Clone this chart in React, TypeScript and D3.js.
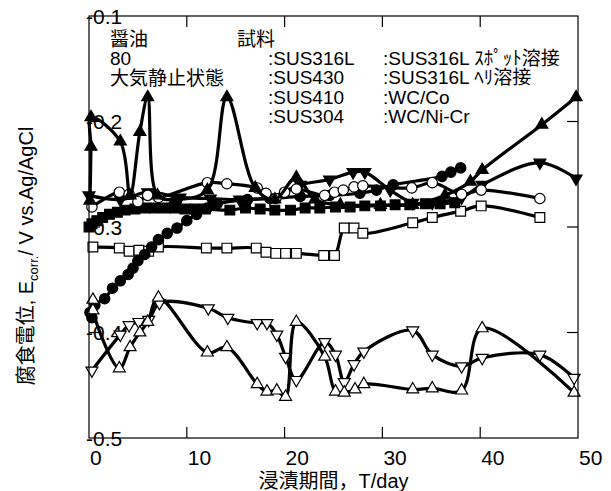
import React, { useEffect, useRef } from "react";
import * as d3 from "d3";

// axis ticks
const xTicks = [0, 10, 20, 30, 40, 50];
const yTicks = [-0.1, -0.2, -0.3, -0.4, -0.5];

// annotation text
const conditionLines = ["醤油", "80", "大気静止状態"];
const sampleHeader = "試料";
const samplesLeft = [":SUS316L", ":SUS430", ":SUS410", ":SUS304"];
const samplesRight = [":SUS316L ｽﾎﾟｯﾄ溶接", ":SUS316L ﾍﾘ溶接", ":WC/Co", ":WC/Ni-Cr"];

// [day, E / V]
const openCircle: [number, number][] = [
  [0.3, -0.281], [3.1, -0.267], [4.1, -0.269], [5.0, -0.276], [6.0, -0.27], [7.1, -0.272],
  [12.1, -0.258], [14.1, -0.259], [17.2, -0.263], [18.1, -0.268], [19.1, -0.273], [20.0, -0.267],
  [21.2, -0.264], [24.1, -0.27], [25.1, -0.267], [26.0, -0.265], [27.1, -0.262], [28.0, -0.261],
  [33.0, -0.263], [35.1, -0.258], [38.1, -0.269], [40.1, -0.265], [46.1, -0.273],
];

const openSquare: [number, number][] = [
  [0.4, -0.319], [3.1, -0.32], [4.1, -0.323], [5.1, -0.322], [6.1, -0.323], [7.1, -0.319],
  [12.0, -0.32], [14.1, -0.32], [17.1, -0.32], [18.1, -0.324], [19.1, -0.325], [20.1, -0.325],
  [21.2, -0.325], [24.0, -0.327], [25.1, -0.327], [26.1, -0.301], [27.1, -0.301], [28.0, -0.306],
  [33.1, -0.296], [35.1, -0.291], [38.0, -0.285], [40.1, -0.28], [46.1, -0.291],
];

const filledCircle: [number, number][] = [
  [0.1, -0.381], [0.3, -0.386], [0.6, -0.374], [1.6, -0.368], [2.4, -0.358], [3.2, -0.351],
  [4.0, -0.345], [4.5, -0.339], [5.0, -0.332], [5.7, -0.326], [6.4, -0.319], [7.1, -0.312],
  [8.0, -0.306], [9.0, -0.301], [10.0, -0.294], [11.0, -0.288], [12.1, -0.282], [13.1, -0.278],
  [16.2, -0.274], [18.5, -0.273], [21.6, -0.271], [24.6, -0.27], [27.7, -0.268], [29.4, -0.265],
  [31.1, -0.26], [36.1, -0.252], [37.0, -0.248], [38.0, -0.244],
];

const filledSquare: [number, number][] = [
  [0.0, -0.3], [0.3, -0.297], [0.8, -0.294], [1.4, -0.291], [2.1, -0.288], [2.9, -0.286],
  [3.7, -0.284], [4.7, -0.283], [5.7, -0.282], [6.7, -0.282], [7.8, -0.282], [8.8, -0.282],
  [9.8, -0.283], [10.8, -0.283], [11.9, -0.283], [14.4, -0.284], [16.0, -0.282], [17.5, -0.283],
  [19.0, -0.284], [20.6, -0.284], [22.1, -0.282], [23.6, -0.282], [25.2, -0.281], [26.7, -0.281],
  [28.2, -0.28], [29.8, -0.28], [31.3, -0.279], [32.8, -0.279], [34.4, -0.278], [35.9, -0.278],
  [37.4, -0.277],
];

const filledTriUp: [number, number][] = [
  [0.1, -0.275], [0.2, -0.224], [0.2, -0.196], [3.2, -0.219], [4.2, -0.27], [5.2, -0.21],
  [6.0, -0.177], [7.0, -0.27], [8.8, -0.274], [12.1, -0.265], [14.1, -0.177], [17.0, -0.263],
  [19.0, -0.274], [21.2, -0.253], [23.1, -0.274], [25.7, -0.279], [29.8, -0.279], [33.1, -0.279],
  [36.4, -0.27], [39.0, -0.257], [40.2, -0.246], [46.3, -0.203], [49.8, -0.177],
];

const filledTriDown: [number, number][] = [
  [0.0, -0.27], [3.2, -0.274], [6.0, -0.267], [9.3, -0.272], [12.4, -0.273], [15.4, -0.274],
  [18.5, -0.272], [21.6, -0.26], [24.6, -0.255], [27.0, -0.248], [28.2, -0.248], [30.8, -0.265],
  [33.1, -0.277], [35.1, -0.277], [38.1, -0.272], [40.2, -0.26], [46.1, -0.239], [49.8, -0.254],
];

const openTriUp: [number, number][] = [
  [0.4, -0.369], [0.4, -0.379], [3.1, -0.434], [4.2, -0.414], [5.2, -0.4], [6.0, -0.39],
  [7.1, -0.367], [12.1, -0.419], [14.1, -0.414], [17.2, -0.449], [18.2, -0.456], [19.2, -0.455],
  [20.1, -0.461], [21.2, -0.39], [24.1, -0.423], [25.2, -0.456], [26.1, -0.457], [27.2, -0.454],
  [28.1, -0.449], [33.1, -0.454], [35.1, -0.453], [38.1, -0.455], [40.2, -0.396], [49.6, -0.457],
];

const openTriDown: [number, number][] = [
  [0.3, -0.436], [3.2, -0.402], [4.1, -0.393], [5.1, -0.39], [6.1, -0.388], [7.2, -0.372],
  [12.2, -0.377], [14.2, -0.386], [17.2, -0.391], [18.2, -0.391], [19.2, -0.402], [20.1, -0.423],
  [21.2, -0.445], [24.1, -0.409], [25.2, -0.421], [26.1, -0.447], [27.1, -0.43], [28.1, -0.418],
  [33.1, -0.398], [35.1, -0.421], [38.1, -0.432], [40.2, -0.424], [46.1, -0.421], [49.6, -0.443],
];

const series = [
  { data: openSquare, shape: "square", filled: false },
  { data: filledCircle, shape: "circle", filled: true },
  { data: filledSquare, shape: "square", filled: true },
  { data: filledTriDown, shape: "down", filled: true },
  { data: openCircle, shape: "circle", filled: false },
  { data: filledTriUp, shape: "up", filled: true },
  { data: openTriDown, shape: "down", filled: false },
  { data: openTriUp, shape: "up", filled: false },
];

const FONT = "'Liberation Sans', Arial, 'Noto Sans CJK JP', sans-serif";

const App = () => {
  const ref = useRef<SVGSVGElement>(null);

  useEffect(() => {
    const svg = d3.select(ref.current);
    svg.selectAll("*").remove();

    const x = d3.scaleLinear().domain([0, 50]).range([89, 578]);
    const y = d3.scaleLinear().domain([-0.1, -0.5]).range([16, 438]);
    const [x0, x1] = x.range();
    const [y0, y1] = y.range();

    // tick labels (start-anchored, as in the original)
    svg
      .append("g")
      .selectAll("text")
      .data(yTicks)
      .enter()
      .append("text")
      .attr("x", x0 - 3)
      .attr("y", (d) => y(d))
      .attr("dominant-baseline", "central")
      .style("font", `21px ${FONT}`)
      .text((d) => d.toFixed(1));

    svg
      .append("g")
      .selectAll("text")
      .data(xTicks)
      .enter()
      .append("text")
      .attr("x", (d) => x(d) + 1)
      .attr("y", y1 + 27)
      .style("font", `21px ${FONT}`)
      .text((d) => d);

    // annotations
    const note = svg.append("g").style("font", `19px ${FONT}`);
    conditionLines.forEach((t, i) =>
      note.append("text").attr("x", 110).attr("y", 46 + i * 19.3).text(t)
    );
    note.append("text").attr("x", 237).attr("y", 46).text(sampleHeader);
    samplesLeft.forEach((t, i) =>
      note.append("text").attr("x", 268).attr("y", 65 + i * 19.3).text(t)
    );
    samplesRight.forEach((t, i) =>
      note.append("text").attr("x", 383).attr("y", 65 + i * 19.3).text(t)
    );

    // data
    const line = d3
      .line<[number, number]>()
      .x((d) => x(d[0]))
      .y((d) => y(d[1]))
      .curve(d3.curveCatmullRom.alpha(0.5));

    const symbolFor = (shape: string) => {
      if (shape === "circle") return d3.symbol(d3.symbolCircle, 85)();
      if (shape === "square") return d3.symbol(d3.symbolSquare, 95)();
      return d3.symbol(d3.symbolTriangle, 62)();
    };

    series.forEach((s) => {
      const g = svg.append("g");
      g.append("path")
        .attr("d", line(s.data))
        .attr("fill", "none")
        .attr("stroke", "#000")
        .attr("stroke-width", 3.2);
      g.selectAll("path.m")
        .data(s.data)
        .enter()
        .append("path")
        .attr("class", "m")
        .attr("d", symbolFor(s.shape))
        .attr(
          "transform",
          (d) =>
            `translate(${x(d[0])},${y(d[1])})${s.shape === "down" ? " rotate(180)" : ""}`
        )
        .attr("fill", s.filled ? "#000" : "#fff")
        .attr("stroke", "#000")
        .attr("stroke-width", 1.2);
    });

    // frame and inward ticks
    const frame = svg.append("g").attr("stroke", "#000").attr("stroke-width", 1.2);
    frame
      .append("rect")
      .attr("x", x0)
      .attr("y", y0)
      .attr("width", x1 - x0)
      .attr("height", y1 - y0)
      .attr("fill", "none");
    xTicks.slice(1, -1).forEach((t) => {
      frame.append("line").attr("x1", x(t)).attr("x2", x(t)).attr("y1", y1).attr("y2", y1 - 11);
      frame.append("line").attr("x1", x(t)).attr("x2", x(t)).attr("y1", y0).attr("y2", y0 + 11);
    });
    yTicks.slice(1, -1).forEach((t) => {
      frame.append("line").attr("x1", x0).attr("x2", x0 + 11).attr("y1", y(t)).attr("y2", y(t));
      frame.append("line").attr("x1", x1).attr("x2", x1 - 11).attr("y1", y(t)).attr("y2", y(t));
    });

    // axis titles
    svg
      .append("text")
      .attr("x", (x0 + x1) / 2)
      .attr("y", 488)
      .attr("text-anchor", "middle")
      .style("font", `20px ${FONT}`)
      .text("浸漬期間，T/day");

    const yt = svg
      .append("text")
      .attr("transform", "translate(33,256) rotate(-90)")
      .attr("text-anchor", "middle")
      .style("font", `20px ${FONT}`);
    yt.append("tspan").text("腐食電位, E");
    yt.append("tspan").attr("dy", 5).style("font-size", "13px").text("corr.");
    yt.append("tspan").attr("dy", -5).text("/ V vs.Ag/AgCl");
  }, []);

  return (
    <svg
      ref={ref}
      width={611}
      height={491}
      style={{ position: "absolute", left: 0, top: 0, background: "#fff" }}
    />
  );
};

export default App;
